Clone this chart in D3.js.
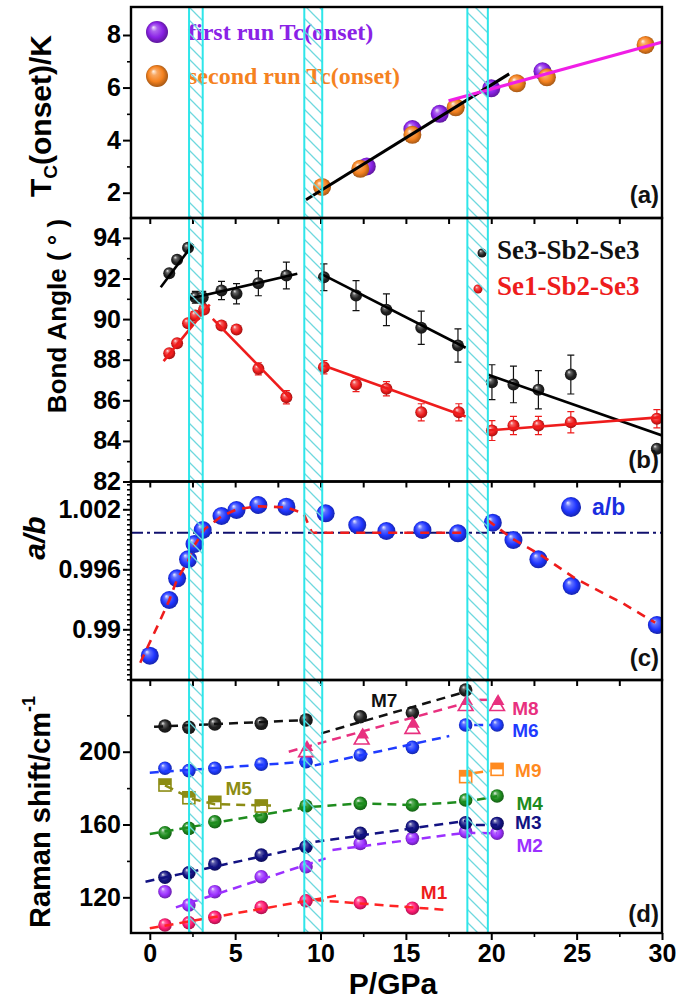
<!DOCTYPE html>
<html><head><meta charset="utf-8">
<script src="https://cdn.jsdelivr.net/npm/d3@7"></script>
<style>body{margin:0;background:#fff}</style>
</head><body>
<svg id="c" width="685" height="1004" xmlns="http://www.w3.org/2000/svg"></svg>
<script>
// ---------------- DATA ----------------
const xTicks = [0, 5, 10, 15, 20, 25, 30];
const xMinor = [2.5, 7.5, 12.5, 17.5, 22.5, 27.5];
const xTopTicks = [0, 2.5, 5, 7.5, 10, 12.5, 15, 17.5, 20, 22.5, 25, 27.5];
const bandLo = [2.3, 9.05, 18.6];
const bandHi = [3.1, 10.1, 19.8];

// (a) Tc(onset)
const tcTicks = [2, 4, 6, 8];
const tcMinor = [3, 5, 7];
const run1P = [12.71, 15.38, 16.98, 20.0, 23.0];
const run1T = [3.0, 4.42, 5.0, 5.97, 6.62];
const run2P = [10.09, 12.33, 15.38, 17.92, 21.5, 23.26, 29.04];
const run2T = [2.22, 2.91, 4.2, 5.25, 6.16, 6.39, 7.62];
const tcFitLowP = [9.15, 21.05], tcFitLowT = [1.73, 6.52];
const tcFitHighP = [17.5, 30.5], tcFitHighT = [5.5, 7.82];

// (b) bond angles
const angTicks = [82, 84, 86, 88, 90, 92, 94];
const angMinor = [83, 85, 87, 89, 91, 93];
const a33P = [1.14, 1.6, 2.24, 2.67, 3.1, 4.2, 5.08, 6.36, 8.0, 10.2, 12.08, 13.86, 15.9, 18.05, 20.04, 21.3, 22.76, 24.66, 29.7];
const a33V = [92.26, 92.92, 93.51, 91.08, 91.08, 91.41, 91.25, 91.77, 92.15, 92.06, 91.16, 90.46, 89.57, 88.7, 86.89, 86.78, 86.52, 87.27, 83.61];
const a33E = [0, 0, 0, 0.29, 0.29, 0.45, 0.5, 0.62, 0.66, 0.66, 0.74, 0.78, 0.82, 0.82, 0.86, 0.9, 0.94, 0.96, 0];
const a13P = [1.14, 1.6, 2.24, 2.67, 3.18, 4.2, 5.08, 6.36, 8.0, 10.2, 12.08, 13.86, 15.9, 18.1, 20.04, 21.3, 22.76, 24.66, 29.7];
const a13V = [88.32, 88.81, 89.8, 90.18, 90.47, 89.68, 89.49, 87.55, 86.15, 87.63, 86.78, 86.57, 85.41, 85.41, 84.51, 84.76, 84.76, 84.92, 85.09];
const a13E = [0, 0, 0, 0, 0, 0, 0, 0.3, 0.33, 0.33, 0.35, 0.35, 0.42, 0.42, 0.49, 0.45, 0.45, 0.52, 0.45];
const fit33P = [[0.64, 2.54], [2.29, 8.64], [10.04, 18.5], [19.78, 30]];
const fit33V = [[91.57, 93.7], [91.0, 92.23], [92.23, 88.59], [87.27, 84.27]];
const fit13P = [[0.81, 3.51], [3.69, 8.26], [10.17, 18.5], [19.78, 30]];
const fit13V = [[87.93, 90.72], [90.01, 86.07], [87.71, 85.2], [84.51, 85.17]];

// (c) a/b
const abTicks = [0.99, 0.996, 1.002];
const abTickLabels = ["0.99", "0.996", "1.002"];
const abP = [0.0, 1.14, 1.6, 2.24, 2.62, 3.1, 4.2, 5.08, 6.36, 8.0, 10.3, 12.15, 13.86, 15.97, 18.05, 20.09, 21.3, 22.76, 24.71, 29.7];
const abV = [0.98736, 0.99293, 0.9951, 0.997, 0.99853, 0.99993, 1.00133, 1.00193, 1.00243, 1.00226, 1.0016, 1.00043, 0.99983, 0.99993, 0.9996, 1.00066, 0.99893, 0.997, 0.99433, 0.99043];
const abRef = 0.99966;
const abCurve1P = [-0.56, 0.5, 1.14, 1.6, 2.24, 2.62, 3.2, 4.2, 5.1, 6.36, 8.0, 9.0, 9.5, 12.0, 15.0, 18.5];
const abCurve1V = [0.98666, 0.9905, 0.9929, 0.9950, 0.9968, 0.9984, 1.0000, 1.0013, 1.0020, 1.0023, 1.0022, 1.0016, 0.99966, 0.99966, 0.99966, 0.99966];
const abCurve2P = [19.78, 21.2, 22.9, 24.9, 27.7, 29.6];
const abCurve2V = [1.00093, 0.9991, 0.99743, 0.9951, 0.9926, 0.99066];

// (d) Raman modes
const ramTicks = [120, 160, 200];
const ramMinor = [140, 180, 220];
const pAll = [0.89, 2.29, 3.81, 6.53, 9.15, 12.33, 15.38, 18.5, 20.34];
const M1 = [104.8, 106.0, 109.0, 114.5, 118.1, 117.0, 114.0];
const M2 = [123.1, 115.8, 123.1, 131.3, 136.8, 149.6, 152.4, 156.0, 155.2];
const M3 = [131.0, 133.5, 138.3, 143.2, 147.8, 155.2, 158.8, 161.0, 160.6];
const M4 = [155.5, 157.9, 161.5, 164.3, 170.2, 171.6, 170.7, 173.5, 175.7];
const M5 = [181.7, 174.7, 172.2, 170.2];
const M6 = [190.9, 189.6, 190.9, 193.2, 194.5, 198.2, 202.4, 214.7, 214.7];
const M7 = [214.1, 213.4, 215.2, 215.6, 217.4, 219.2, 221.4, 233.9];
const M8P = [9.15, 12.41, 15.38, 18.5, 20.34];
const M8 = [201.3, 208.2, 214.1, 226.6, 226.6];
const M9P = [18.5, 20.34];
const M9 = [186.3, 190.3];
// dashed guide lines (segments) for modes
const L1 = [[[0, 11.2], [103, 121.3]], [[9.66, 17.5], [118.5, 113.0]]];
const L2 = [[[1.53, 10.3], [114.5, 141.4]], [[10.7, 18.5, 20.34], [146, 155.5, 155.2]]];
const L3 = [[[-0.25, 9.15], [128.6, 147.8]], [[9.7, 18.5], [150.5, 162.0]], [[19.1, 20.34], [159.8, 159.8]]];
const L4 = [[[0, 9.15, 12.33, 15.38, 18.5, 20.34], [154.8, 169.5, 171.6, 170.7, 172.5, 175.5]]];
const L5 = [[[0.89, 2.5, 3.81, 7.1], [181.5, 174, 171.2, 170.4]]];
const L6 = [[[0, 9.15], [188.5, 194.5]], [[9.66, 17.54], [192.5, 208.6]], [[19.0, 20.0], [214.7, 214.7]]];
const L7 = [[[0.25, 9.15], [213.7, 217.4]], [[10.04, 18.7], [210.1, 233.5]]];
const L8 = [[[8.14, 18.7], [200, 227.3]], [[19.3, 20.0], [228.5, 228.5]]];
const L9 = [[[19.0, 19.9], [188.3, 189.5]]];
const modeNames = ["M1", "M2", "M3", "M4", "M5", "M6", "M7", "M8", "M9"];
const modeLabelP = [16.65, 22.25, 22.17, 22.25, 5.21, 22.0, 13.73, 22.0, 22.17];
const modeLabelV = [123.1, 148.4, 161.3, 172.0, 179.9, 212.0, 228.4, 223.8, 189.6];

// ---------------- STYLE / LAYOUT ----------------
const C = {
  purple: "#8a22e6", orange: "#f5821f", magenta: "#f01ee6",
  black: "#222222", red: "#ee1c1c", blue: "#1f35ff",
  navy: "#101080", dashNavy: "#10106e",
  m1: "#ff1a72", m1line: "#ff2424", m2: "#9b30ff", m3: "#121282", m4: "#1e8c1e",
  m5: "#8c8c14", m6: "#1f3bff", m7: "#202020", m8: "#e8307f", m9: "#ff8a1f",
  cyan: "#2ee6ea", hatch: "#6fd8de"
};
const SANS = "'Liberation Sans', Arial, Helvetica, sans-serif";
const SERIF = "'Liberation Serif', 'Times New Roman', serif";

const X0 = 131, X1 = 662;
const x = d3.scaleLinear().domain([-1.1, 30]).range([X0, X1]);
const P = {
  a: {top: 7, bot: 218, dom: [1.037, 9.065]},
  b: {top: 218, bot: 481.5, dom: [82, 94.98]},
  c: {top: 481.5, bot: 680, dom: [0.98493, 1.00478]},
  d: {top: 680, bot: 933, dom: [100.4, 239.4]}
};
for (const k in P) P[k].y = d3.scaleLinear().domain(P[k].dom).range([P[k].bot, P[k].top]);

const svg = d3.select("#c");
const defs = svg.append("defs");

function grad(id, c) {
  const g = defs.append("radialGradient").attr("id", id)
    .attr("cx", "50%").attr("cy", "50%").attr("r", "55%").attr("fx", "33%").attr("fy", "28%");
  g.append("stop").attr("offset", "0%").attr("stop-color", d3.interpolateRgb(c, "#fff")(0.92));
  g.append("stop").attr("offset", "25%").attr("stop-color", d3.interpolateRgb(c, "#fff")(0.3));
  g.append("stop").attr("offset", "62%").attr("stop-color", c);
  g.append("stop").attr("offset", "100%").attr("stop-color", d3.color(c).darker(1.4));
  return "url(#" + id + ")";
}
const G = {};
for (const k of ["purple", "orange", "black", "red", "blue", "m1", "m2", "m3", "m4", "m6", "m7"]) G[k] = grad("g_" + k, C[k]);

// hatch pattern
const pat = defs.append("pattern").attr("id", "hatch").attr("patternUnits", "userSpaceOnUse")
  .attr("width", 13).attr("height", 13);
pat.append("path").attr("d", "M-4,-4 L17,17 M-4,9 L4,17 M9,-4 L17,4")
  .attr("stroke", C.hatch).attr("stroke-width", 1.3).attr("fill", "none");

// clips
for (const k in P) {
  defs.append("clipPath").attr("id", "clip_" + k).append("rect")
    .attr("x", X0).attr("y", P[k].top).attr("width", X1 - X0).attr("height", P[k].bot - P[k].top);
}

function layer(k) { return svg.append("g").attr("clip-path", "url(#clip_" + k + ")"); }
function spheres(g, xs, ys, yScale, fill, r) {
  g.selectAll(null).data(xs.map((p, i) => [p, ys[i]])).enter().append("circle")
    .attr("cx", d => x(d[0])).attr("cy", d => yScale(d[1])).attr("r", r).attr("fill", fill);
}
function line(g, xs, ys, yScale, color, w, dash) {
  const pts = xs.map((p, i) => [x(p), yScale(ys[i])]);
  g.append("path").attr("d", d3.line()(pts)).attr("fill", "none")
    .attr("stroke", color).attr("stroke-width", w).attr("stroke-dasharray", dash || null);
}
function leftAxis(k, ticks, minor, labels, size) {
  const y = P[k].y;
  const g = svg.append("g").attr("transform", `translate(${X0},0)`);
  g.call(d3.axisLeft(y).tickValues(ticks).tickSize(8).tickPadding(2)
    .tickFormat((d, i) => labels ? labels[i] : d));
  g.select(".domain").remove();
  g.selectAll("line").attr("stroke", "#000").attr("stroke-width", 2);
  g.selectAll("text").attr("font-family", SANS).attr("font-weight", "bold")
    .attr("font-size", size || 25).attr("fill", "#000");
  const gm = svg.append("g").attr("transform", `translate(${X0},0)`);
  gm.call(d3.axisLeft(y).tickValues(minor).tickSize(4).tickFormat(""));
  gm.select(".domain").remove();
  gm.selectAll("line").attr("stroke", "#000").attr("stroke-width", 1.6);
}
function topTicks(k) {
  const g = svg.append("g").attr("transform", `translate(0,${P[k].top})`);
  g.call(d3.axisBottom(x).tickValues(xTopTicks).tickSize(6).tickFormat(""));
  g.select(".domain").remove();
  g.selectAll("line").attr("stroke", "#000").attr("stroke-width", 2);
}

// ---------------- PANEL (a) ----------------
{
  const y = P.a.y, g = layer("a");
  spheres(g, run1P, run1T, y, G.purple, 9);
  spheres(g, run2P, run2T, y, G.orange, 9);
  line(g, tcFitLowP, tcFitLowT, y, "#000", 3);
  line(g, tcFitHighP, tcFitHighT, y, C.magenta, 3.2);
  leftAxis("a", tcTicks, tcMinor);
  // legend
  svg.append("circle").attr("cx", 157).attr("cy", 32).attr("r", 11).attr("fill", G.purple);
  svg.append("text").attr("x", 188).attr("y", 40).text("first run Tc(onset)")
    .attr("font-family", SERIF).attr("font-weight", "bold").attr("font-size", 24).attr("fill", C.purple);
  svg.append("circle").attr("cx", 157).attr("cy", 76).attr("r", 11).attr("fill", G.orange);
  svg.append("text").attr("x", 188).attr("y", 84).text("second run Tc(onset)")
    .attr("font-family", SERIF).attr("font-weight", "bold").attr("font-size", 24).attr("fill", C.orange);
}

// ---------------- PANEL (b) ----------------
{
  const y = P.b.y, g = layer("b");
  function errs(xs, ys, es, color) {
    xs.forEach((p, i) => {
      if (!es[i]) return;
      const cx = x(p), y0 = y(ys[i] - es[i]), y1 = y(ys[i] + es[i]);
      g.append("path").attr("d", `M${cx},${y0}V${y1}M${cx - 3.5},${y0}H${cx + 3.5}M${cx - 3.5},${y1}H${cx + 3.5}`)
        .attr("stroke", color).attr("stroke-width", 1.2).attr("fill", "none");
    });
  }
  errs(a33P, a33V, a33E, "#111");
  errs(a13P, a13V, a13E, C.red);
  spheres(g, a33P, a33V, y, G.black, 6);
  spheres(g, a13P, a13V, y, G.red, 6);
  fit33P.forEach((s, i) => line(g, s, fit33V[i], y, "#000", 2.6));
  fit13P.forEach((s, i) => line(g, s, fit13V[i], y, C.red, 2.6));
  leftAxis("b", angTicks, angMinor);
  topTicks("b");
  svg.append("circle").attr("cx", 482).attr("cy", 253).attr("r", 4.5).attr("fill", G.black);
  svg.append("text").attr("x", 497).attr("y", 259).text("Se3-Sb2-Se3")
    .attr("font-family", SERIF).attr("font-weight", "bold").attr("font-size", 27).attr("fill", "#111");
  svg.append("circle").attr("cx", 478).attr("cy", 289).attr("r", 4.5).attr("fill", G.red);
  svg.append("text").attr("x", 497).attr("y", 295).text("Se1-Sb2-Se3")
    .attr("font-family", SERIF).attr("font-weight", "bold").attr("font-size", 27).attr("fill", C.red);
}

// ---------------- PANEL (c) ----------------
{
  const y = P.c.y, g = layer("c");
  line(g, [-1.1, 30], [abRef, abRef], y, C.dashNavy, 2, "12,4,3,4");
  spheres(g, abP, abV, y, G.blue, 9);
  line(g, abCurve1P, abCurve1V, y, C.red, 2.6, "9,7");
  line(g, abCurve2P, abCurve2V, y, C.red, 2.6, "9,7");
  const minor = d3.range(0.985, 1.0047, 0.0005).filter(v => !abTicks.some(t => Math.abs(t - v) < 1e-6));
  leftAxis("c", abTicks, minor, abTickLabels);
  topTicks("c");
  svg.append("circle").attr("cx", 571).attr("cy", 507).attr("r", 10).attr("fill", G.blue);
  svg.append("text").attr("x", 592).attr("y", 515).text("a/b")
    .attr("font-family", SANS).attr("font-weight", "bold").attr("font-size", 23).attr("fill", "#1a2ee0");
}

// ---------------- PANEL (d) ----------------
{
  const y = P.d.y, g = layer("d");
  const R = 6.8;
  spheres(g, pAll.slice(0, M1.length), M1, y, G.m1, R);
  spheres(g, pAll, M2, y, G.m2, R);
  spheres(g, pAll, M3, y, G.m3, R);
  spheres(g, pAll, M4, y, G.m4, R);
  spheres(g, pAll, M6, y, G.m6, R);
  spheres(g, pAll.slice(0, M7.length), M7, y, G.m7, R);
  // half-filled squares
  function halfSquares(xs, ys, color) {
    xs.forEach((p, i) => {
      const cx = x(p), cy = y(ys[i]), s = 12;
      g.append("rect").attr("x", cx - s / 2).attr("y", cy - s / 2).attr("width", s).attr("height", s)
        .attr("fill", "#fff").attr("stroke", color).attr("stroke-width", 1.6);
      g.append("rect").attr("x", cx - s / 2).attr("y", cy - s / 2).attr("width", s).attr("height", s / 2)
        .attr("fill", color);
    });
  }
  halfSquares(pAll.slice(0, M5.length), M5, C.m5);
  halfSquares(M9P, M9, C.m9);
  // triangles (open + filled)
  M8P.forEach((p, i) => {
    const cx = x(p), cy = y(M8[i]);
    g.append("path").attr("d", d3.symbol(d3.symbolTriangle, 95)())
      .attr("transform", `translate(${cx},${cy + 3})`).attr("fill", "#fff").attr("stroke", C.m8).attr("stroke-width", 1.6);
    g.append("path").attr("d", d3.symbol(d3.symbolTriangle, 70)())
      .attr("transform", `translate(${cx + 1},${cy - 2})`).attr("fill", C.m8);
  });
  const lines = [[L1, C.m1line], [L2, C.m2], [L3, C.m3], [L4, C.m4], [L5, C.m5], [L6, C.m6], [L7, "#111"], [L8, C.m8], [L9, C.m9]];
  lines.forEach(([segs, col]) => segs.forEach(s => line(g, s[0], s[1], y, col, 2.5, "9,6")));
  const labCol = [C.red, C.m2, C.m3, C.m4, C.m5, C.m6, "#111", C.m8, C.m9];
  modeNames.forEach((n, i) => {
    svg.append("text").attr("x", x(modeLabelP[i])).attr("y", y(modeLabelV[i])).attr("dy", "0.36em")
      .attr("text-anchor", "middle").text(n)
      .attr("font-family", SANS).attr("font-weight", "bold").attr("font-size", 19).attr("fill", labCol[i]);
  });
  leftAxis("d", ramTicks, ramMinor);
  topTicks("d");
  // bottom axis
  const gb = svg.append("g").attr("transform", `translate(0,${P.d.bot})`);
  gb.call(d3.axisBottom(x).tickValues(xTicks).tickSize(7).tickPadding(4));
  gb.select(".domain").remove();
  gb.selectAll("line").attr("stroke", "#000").attr("stroke-width", 2);
  gb.selectAll("text").attr("font-family", SANS).attr("font-weight", "bold").attr("font-size", 25).attr("fill", "#000");
  const gbm = svg.append("g").attr("transform", `translate(0,${P.d.bot})`);
  gbm.call(d3.axisBottom(x).tickValues(xMinor).tickSize(4).tickFormat(""));
  gbm.select(".domain").remove();
  gbm.selectAll("line").attr("stroke", "#000").attr("stroke-width", 1.6);
}

// ---------------- BANDS ----------------
bandLo.forEach((lo, i) => {
  svg.append("rect").attr("x", x(lo)).attr("y", P.a.top).attr("width", x(bandHi[i]) - x(lo))
    .attr("height", P.d.bot - P.a.top).attr("fill", "url(#hatch)")
    .attr("stroke", C.cyan).attr("stroke-width", 2);
});

// ---------------- FRAMES ----------------
for (const k in P) {
  svg.append("rect").attr("x", X0).attr("y", P[k].top).attr("width", X1 - X0).attr("height", P[k].bot - P[k].top)
    .attr("fill", "none").attr("stroke", "#000").attr("stroke-width", 2.4);
}

// panel labels
[["a", "(a)", 203], ["b", "(b)", 468], ["c", "(c)", 666], ["d", "(d)", 922]].forEach(([k, t, yy]) => {
  svg.append("text").attr("x", 659).attr("y", yy).attr("text-anchor", "end").text(t)
    .attr("font-family", SANS).attr("font-weight", "bold").attr("font-size", 24).attr("fill", "#111");
});

// axis titles
function vtitle(xx, yy, size, build) {
  const t = svg.append("text").attr("transform", `translate(${xx},${yy}) rotate(-90)`)
    .attr("text-anchor", "middle").attr("font-family", SANS).attr("font-weight", "bold")
    .attr("font-size", size).attr("fill", "#000");
  build(t);
}
vtitle(51, 116, 30, t => {
  t.append("tspan").text("T");
  t.append("tspan").text("C").attr("font-size", 19).attr("dy", 6);
  t.append("tspan").text("(onset)/K").attr("dy", -6);
});
vtitle(66, 316, 26, t => t.text("Bond Angle ( ° )"));
vtitle(45, 538, 30, t => t.text("a/b").attr("font-style", "italic"));
vtitle(50, 812, 29, t => {
  t.append("tspan").text("Raman shift/cm");
  t.append("tspan").text("-1").attr("font-size", 18).attr("dy", -15);
});
svg.append("text").attr("x", 393).attr("y", 994).attr("text-anchor", "middle").text("P/GPa")
  .attr("font-family", SANS).attr("font-weight", "bold").attr("font-size", 30).attr("fill", "#000");
</script>
</body></html>
